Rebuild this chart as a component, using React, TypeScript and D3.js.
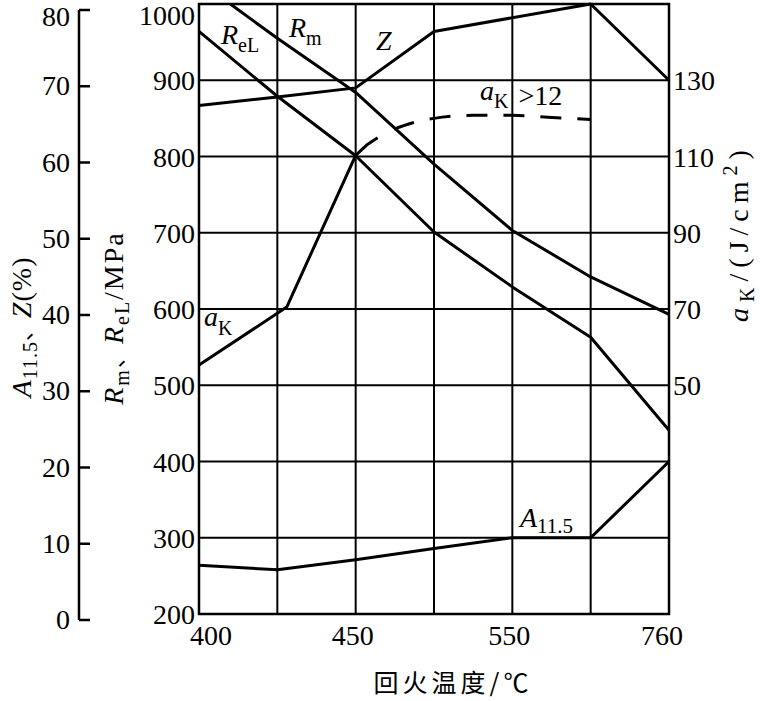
import React from 'react';
import * as d3 from 'd3';

// x positions are the 7 grid columns of the original figure
const xTickLabels = ['400', '', '450', '', '550', '', '760'];
const rTicks = [200, 300, 400, 500, 600, 700, 800, 900, 1000];
const pctTicks = [0, 10, 20, 30, 40, 50, 60, 70, 80];
const akTicks = [50, 70, 90, 110, 130];

// [column index, value]
const rmPoints: [number, number][] = [[0.4, 1000], [1, 955], [2, 884], [3, 790], [4, 703], [5, 642], [6, 593]];
const relPoints: [number, number][] = [[0, 964], [1, 879], [2, 801], [3, 701], [4, 629], [5, 563], [6, 441]];
const zPoints: [number, number][] = [[0, 66.7], [1, 67.8], [2, 69], [3, 76.4], [5, 80], [6, 70]];
const aPoints: [number, number][] = [[0, 6.4], [1, 5.8], [2, 7.1], [3, 8.6], [4, 10], [5, 10], [6, 20]];
const akSolid: [number, number][] = [[0, 55.3], [1.12, 70.5], [2, 110.3], [2.14, 113], [2.28, 114.9]];
const akDashed: [number, number][] = [[2.49, 117.2], [2.72, 118.8], [3, 120], [3.5, 120.8], [4, 120.8], [4.45, 120.3], [5, 119.7]];

const FONT = '"Liberation Serif", "DejaVu Serif", serif';
const CJK = '"Noto Sans CJK SC", "Noto Sans CJK JP", sans-serif';

export default function App() {
  const W = 760;
  const H = 701;

  const x = d3.scaleLinear().domain([0, 6]).range([199, 669]);
  const yR = d3.scaleLinear().domain([200, 1000]).range([614, 4]);
  const yPct = d3.scaleLinear().domain([0, 80]).range([614, 4]);
  const yPctAxis = d3.scaleLinear().domain([0, 80]).range([620, 10]);
  const yAk = d3.scaleLinear().domain([-10, 150]).range([614, 4]);

  const mk = (y: d3.ScaleLinear<number, number>, curve: d3.CurveFactory = d3.curveLinear) =>
    d3.line<[number, number]>().x(d => x(d[0])).y(d => y(d[1])).curve(curve);

  const rLine = mk(yR);
  const pctLine = mk(yPct);
  const akLine = mk(yAk);
  const akCurve = mk(yAk, d3.curveMonotoneX);

  const [x0, x1] = x.range();
  const [yB, yT] = yR.range();

  return (
    <svg width={W} height={H} style={{ position: 'absolute', left: 0, top: 0, background: '#fff', fontFamily: FONT }}>
      {/* grid */}
      <g stroke="#000" strokeWidth={2}>
        {rTicks.slice(1, -1).map(v => (
          <line key={'h' + v} x1={x0} x2={x1} y1={yR(v)} y2={yR(v)} />
        ))}
        {d3.range(1, 6).map(i => (
          <line key={'v' + i} x1={x(i)} x2={x(i)} y1={yT} y2={yB} />
        ))}
      </g>
      <rect x={x0} y={yT} width={x1 - x0} height={yB - yT} fill="none" stroke="#000" strokeWidth={2.5} />

      {/* left percent axis */}
      <line x1={79} x2={79} y1={yPctAxis(80)} y2={yPctAxis(0)} stroke="#000" strokeWidth={2.5} />
      {pctTicks.map(v => (
        <g key={'p' + v}>
          <line x1={79} x2={90} y1={yPctAxis(v)} y2={yPctAxis(v)} stroke="#000" strokeWidth={2.5} />
          <text x={70} y={Math.max(yPctAxis(v) + 9, 26)} textAnchor="end" fontSize={28}>{v}</text>
        </g>
      ))}

      {/* R axis labels */}
      {rTicks.map(v => (
        <text key={'r' + v} x={195} y={Math.max(yR(v) + 10, 25)} textAnchor="end" fontSize={28}>{v}</text>
      ))}

      {/* aK axis labels */}
      {akTicks.map(v => (
        <text key={'k' + v} x={673} y={yAk(v) + 10} textAnchor="start" fontSize={28}>{v}</text>
      ))}

      {/* x labels */}
      {xTickLabels.map((t, i) => t && (
        <text key={'x' + i} x={x(i) + (i === 0 ? 12 : i === 6 ? -7 : -3)} y={645} textAnchor="middle" fontSize={28}>{t}</text>
      ))}

      {/* curves */}
      <g fill="none" stroke="#000" strokeWidth={3} strokeLinejoin="round">
        <path d={rLine(rmPoints) || ''} />
        <path d={rLine(relPoints) || ''} />
        <path d={pctLine(zPoints) || ''} />
        <path d={pctLine(aPoints) || ''} />
        <path d={akLine(akSolid) || ''} />
        <path d={akCurve(akDashed) || ''} strokeDasharray="21,16" />
      </g>

      {/* curve labels */}
      <g fontSize={28}>
        <text x={221} y={44}><tspan fontStyle="italic">R</tspan><tspan fontSize={20} dy={8}>eL</tspan></text>
        <text x={289} y={37}><tspan fontStyle="italic">R</tspan><tspan fontSize={20} dy={8}>m</tspan></text>
        <text x={376} y={50} fontStyle="italic">Z</text>
        <text x={480} y={100}><tspan fontStyle="italic">a</tspan><tspan fontSize={20} dy={8}>K</tspan><tspan dx={10} dy={-3}>&gt;12</tspan></text>
        <text x={204} y={326}><tspan fontStyle="italic">a</tspan><tspan fontSize={20} dy={9}>K</tspan></text>
        <text x={520} y={527}><tspan fontStyle="italic">A</tspan><tspan fontSize={21} dy={6}>11.5</tspan></text>
      </g>

      {/* axis titles */}
      <text transform="translate(31,327) rotate(-90)" textAnchor="middle" fontSize={28} letterSpacing={1}>
        <tspan fontStyle="italic">A</tspan><tspan fontSize={20} dy={6}>11.5</tspan><tspan dy={-6} fontSize={22} style={{ fontFamily: CJK }}>、</tspan><tspan fontStyle="italic">Z</tspan><tspan>(%)</tspan>
      </text>
      <text transform="translate(123,318) rotate(-90)" textAnchor="middle" fontSize={28} letterSpacing={2}>
        <tspan fontStyle="italic">R</tspan><tspan fontSize={20} dy={6}>m</tspan><tspan dy={-6} fontSize={22} style={{ fontFamily: CJK }}>、</tspan><tspan fontStyle="italic">R</tspan><tspan fontSize={20} dy={6}>eL</tspan><tspan dy={-6}>/MPa</tspan>
      </text>
      <text transform="translate(748,233) rotate(-90)" textAnchor="middle" fontSize={28} letterSpacing={6}>
        <tspan fontStyle="italic">a</tspan><tspan fontSize={20} dy={6}>K</tspan><tspan dy={-6}>/(J/cm</tspan><tspan fontSize={20} dy={-11}>2</tspan><tspan dy={11}>)</tspan>
      </text>
      <text x={453} y={692} textAnchor="middle" fontSize={25} style={{ fontFamily: CJK }} letterSpacing={4}>回火温度/℃</text>
    </svg>
  );
}
